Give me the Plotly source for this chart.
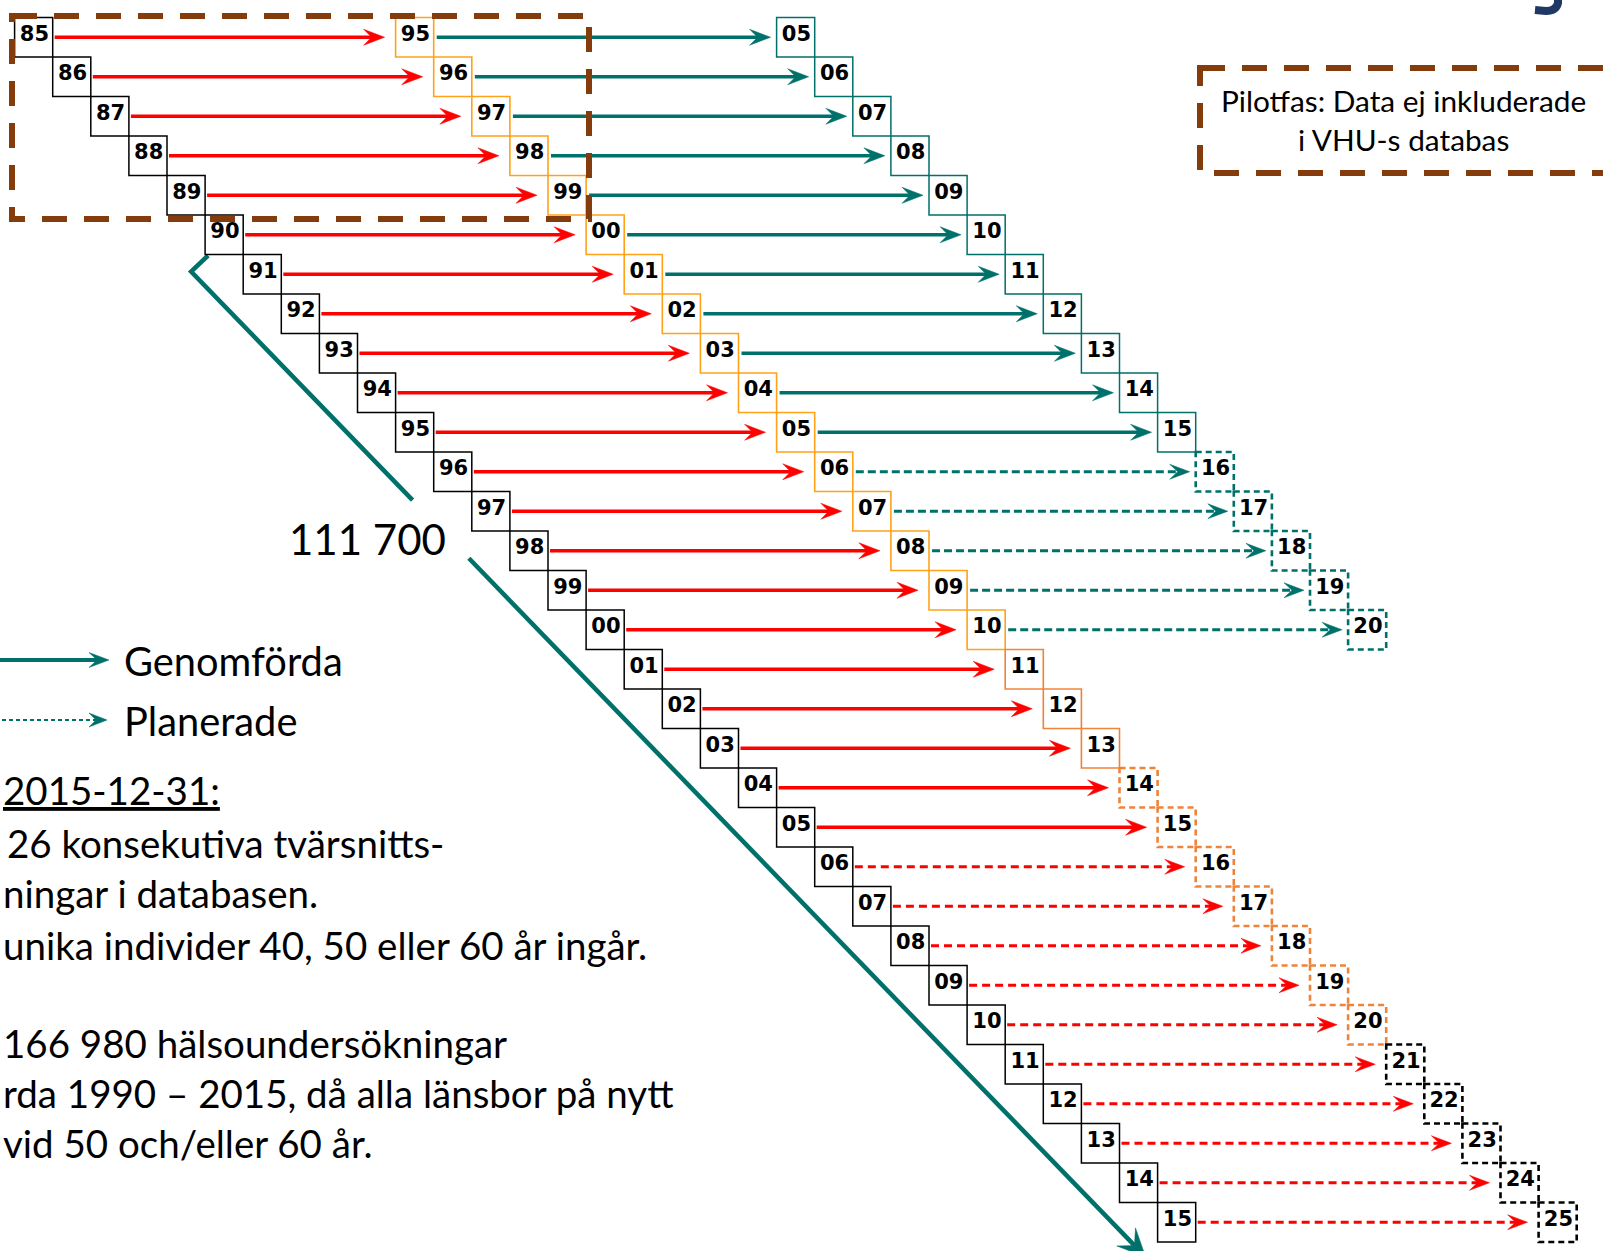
import math
import plotly.graph_objects as go

W, H = 1603, 1251

# ---------------- data ----------------
cohort_label = ["85", "86", "87", "88", "89", "90", "91", "92", "93", "94", "95",
                "96", "97", "98", "99", "00", "01", "02", "03", "04", "05",
                "06", "07", "08", "09", "10", "11", "12", "13", "14", "15"]
followup10_label = ["95", "96", "97", "98", "99", "00", "01", "02", "03", "04", "05",
                    "06", "07", "08", "09", "10", "11", "12", "13", "14", "15",
                    "16", "17", "18", "19", "20", "21", "22", "23", "24", "25"]
# G = genomförd (solid), P = planerad (dashed)
followup10_arrow = ["G", "G", "G", "G", "G", "G", "G", "G", "G", "G", "G",
                    "G", "G", "G", "G", "G", "G", "G", "G", "G", "G",
                    "P", "P", "P", "P", "P", "P", "P", "P", "P", "P"]
# A = amber solid, O = orange solid, OP = orange planned, KP = black planned
followup10_box = ["A", "A", "A", "A", "A", "A", "A", "A", "A", "A", "A",
                  "A", "A", "A", "A", "A", "O", "O", "O", "OP", "OP",
                  "OP", "OP", "OP", "OP", "OP", "KP", "KP", "KP", "KP", "KP"]
followup20_label = ["05", "06", "07", "08", "09", "10", "11", "12", "13", "14", "15",
                    "16", "17", "18", "19", "20"]
followup20_arrow = ["G", "G", "G", "G", "G", "G", "G", "G", "G", "G", "G",
                    "P", "P", "P", "P", "P"]

cohort_total_label = "111 700"
legend_labels = ["Genomförda", "Planerade"]
pilot_text = ["Pilotfas: Data ej inkluderade", "i VHU-s databas"]
note_lines = ["<u>2015-12-31:</u>",
              "26 konsekutiva tvärsnitts-",
              "ningar i databasen.",
              "unika individer 40, 50 eller 60 år ingår.",
              "166 980 hälsoundersökningar",
              "rda 1990 – 2015, då alla länsbor på nytt",
              "vid 50 och/eller 60 år."]

BASE_YEAR = 1985


def full_year(lbl):
    v = int(lbl)
    return 1900 + v if v >= 50 else 2000 + v


# ---------------- geometry of the staircase grid ----------------
X0, CW = 14.6, 38.1
Y0, RH = 17.5, 39.5


def d2p(x, y):
    return X0 + x * CW, Y0 + y * RH


def p2d(px, py):
    return (px - X0) / CW, (py - Y0) / RH


TEAL = "#00706B"
RED = "#FF0000"
AMBER = "#FFA21A"
ORANGE = "#EE843A"
BROWN = "#843C0C"
NAVY = "#203864"
FONT = "Lato"
BOXFONT = "DejaVu Sans"

STYLE = {
    "K": ("#000000", 1.5, "solid"),
    "A": (AMBER, 1.6, "solid"),
    "O": (ORANGE, 1.6, "solid"),
    "OP": (ORANGE, 2.6, "6px,4px"),
    "KP": ("#000000", 2.6, "6px,4px"),
    "T": (TEAL, 1.5, "solid"),
    "TP": (TEAL, 2.6, "6px,4px"),
}

shapes = []


def box(col, row, key):
    c, w, dash = STYLE[key]
    shapes.append(dict(type="rect", xref="x", yref="y", x0=col, x1=col + 1,
                       y0=row, y1=row + 1, line=dict(color=c, width=w, dash=dash),
                       fillcolor="rgba(0,0,0,0)", layer="above"))


lines = {}
heads = {}


def add_arrow(p_start, p_tip, color, width, dash, L=20, w=7, n=12):
    dx, dy = p_tip[0] - p_start[0], p_tip[1] - p_start[1]
    d = math.hypot(dx, dy)
    ux, uy = dx / d, dy / d
    vx, vy = -uy, ux
    end = (p_tip[0] - ux * (n - 3), p_tip[1] - uy * (n - 3))
    xs, ys = lines.setdefault((color, width, dash), ([], []))
    for p in (p_start, end):
        x, y = p2d(*p)
        xs.append(x)
        ys.append(y)
    xs.append(None)
    ys.append(None)
    hx, hy = heads.setdefault(color, ([], []))
    pts = [p_tip,
           (p_tip[0] - L * ux + w * vx, p_tip[1] - L * uy + w * vy),
           (p_tip[0] - n * ux, p_tip[1] - n * uy),
           (p_tip[0] - L * ux - w * vx, p_tip[1] - L * uy - w * vy),
           p_tip]
    for p in pts:
        x, y = p2d(*p)
        hx.append(x)
        hy.append(y)
    hx.append(None)
    hy.append(None)


labels = {"x": [], "y": [], "t": []}


def add_label(col, row, txt):
    labels["x"].append(col + 0.52)
    labels["y"].append(row + 0.45)
    labels["t"].append(txt)


for r, lbl in enumerate(cohort_label):
    c0 = full_year(lbl) - BASE_YEAR
    box(c0, r, "K")
    add_label(c0, r, lbl)

    c1 = full_year(followup10_label[r]) - BASE_YEAR
    box(c1, r, followup10_box[r])
    add_label(c1, r, followup10_label[r])
    yc = r + 0.5
    sx, sy = d2p(c0 + 1, yc)
    tx, ty = d2p(c1, yc)
    if followup10_arrow[r] == "G":
        add_arrow((sx + 2, sy), (tx - 11, ty), RED, 3.5, "solid", L=21, w=8, n=13)
    else:
        add_arrow((sx + 2, sy), (tx - 11, ty), RED, 2.8, "8px,5px", L=20, w=7.5, n=12)

    if r < len(followup20_label):
        c2 = full_year(followup20_label[r]) - BASE_YEAR
        st = "T" if followup20_arrow[r] == "G" else "TP"
        box(c2, r, st)
        add_label(c2, r, followup20_label[r])
        sx, sy = d2p(c1 + 1, yc)
        tx, ty = d2p(c2, yc)
        if followup20_arrow[r] == "G":
            add_arrow((sx + 3, sy), (tx - 6, ty), TEAL, 3.5, "solid", L=21, w=8, n=13)
        else:
            add_arrow((sx + 3, sy), (tx - 6, ty), TEAL, 2.8, "8px,4px", L=20, w=7.5, n=12)

# big diagonal arrow from first database cohort (1990) to last cohort (2015)
r90 = cohort_label.index("90")
c90 = full_year("90") - BASE_YEAR
r15 = cohort_label.index("15")
c15 = full_year("15") - BASE_YEAR
p_start = d2p(c90, r90 + 1)
p_start = (p_start[0] + 3, p_start[1] + 1)
p_elbow = (p_start[0] - 17, p_start[1] + 16)
p_tip = d2p(c15, r15 + 1)
p_tip = (p_tip[0] - 12, p_tip[1] + 15)
t1, t2 = 0.232, 0.291


def lerp(a, b, t):
    return (a[0] + (b[0] - a[0]) * t, a[1] + (b[1] - a[1]) * t)


diag_pts = [p_start, p_elbow, lerp(p_elbow, p_tip, t1), None, lerp(p_elbow, p_tip, t2)]
dxs, dys = [], []
for p in diag_pts:
    if p is None:
        dxs.append(None)
        dys.append(None)
    else:
        x, y = p2d(*p)
        dxs.append(x)
        dys.append(y)
add_arrow(lerp(p_elbow, p_tip, t2), p_tip, TEAL, 4.5, "solid", L=28, w=13, n=16)

# legend arrows (in pixel positions)
add_arrow((-5, 660), (109, 660), TEAL, 4, "solid", L=20, w=7.5, n=12)
add_arrow((-5, 720), (107, 720), TEAL, 2, "4px,3px", L=18, w=7, n=11)

fig = go.Figure()

for (color, width, dash), (xs, ys) in lines.items():
    fig.add_trace(go.Scatter(x=xs, y=ys, mode="lines", hoverinfo="skip",
                             line=dict(color=color, width=width, dash=dash)))
fig.add_trace(go.Scatter(x=dxs, y=dys, mode="lines", hoverinfo="skip",
                         line=dict(color=TEAL, width=4.5)))
for color, (xs, ys) in heads.items():
    fig.add_trace(go.Scatter(x=xs, y=ys, mode="lines", fill="toself", fillcolor=color,
                             hoverinfo="skip", line=dict(color=color, width=0.5)))

fig.add_trace(go.Scatter(x=labels["x"], y=labels["y"], text=labels["t"], mode="text",
                         hoverinfo="skip",
                         textfont=dict(family=BOXFONT, size=21, color="#000000",
                                       weight="bold")))

# brown dashed "pilot phase" frames
bx0, by0 = p2d(12, 16)
bx1, by1 = p2d(589, 219)
shapes.append(dict(type="rect", xref="x", yref="y", x0=bx0, x1=bx1, y0=by0, y1=by1,
                   line=dict(color=BROWN, width=6, dash="25px,17px"), layer="above"))
bx0, by0 = p2d(1200, 68)
bx1, by1 = p2d(1650, 173)
shapes.append(dict(type="rect", xref="x", yref="y", x0=bx0, x1=bx1, y0=by0, y1=by1,
                   line=dict(color=BROWN, width=6, dash="25px,17px"), layer="above"))


def pp(px, py):
    return px / W, 1 - py / H


# tail of a cut-off title letter in the top-right corner
tail = [(1558, -8), (1558, 3), (1556, 11), (1546, 11), (1535, 10)]
tp = [pp(*p) for p in tail]
path = "M {:.5f},{:.5f} L {:.5f},{:.5f} Q {:.5f},{:.5f} {:.5f},{:.5f} L {:.5f},{:.5f}".format(
    tp[0][0], tp[0][1], tp[1][0], tp[1][1], tp[2][0], tp[2][1], tp[3][0], tp[3][1],
    tp[4][0], tp[4][1])
shapes.append(dict(type="path", xref="paper", yref="paper", path=path,
                   line=dict(color=NAVY, width=8)))

annotations = []


def ann(text, px, py, size, xanchor="left", color="#000000"):
    x, y = pp(px, py)
    annotations.append(dict(text=text, x=x, y=y, xref="paper", yref="paper",
                            xanchor=xanchor, yanchor="middle", showarrow=False,
                            font=dict(family=FONT, size=size, color=color)))


ann(pilot_text[0], 1403, 101, 29.8, "center")
ann(pilot_text[1], 1403, 139, 29.8, "center")
ann(cohort_total_label, 367, 539, 42, "center")
ann(legend_labels[0], 122, 660, 39.8)
ann(legend_labels[1], 122, 720, 39.8)
note_pos = [(1, 790), (5, 843), (1, 893), (1, 945), (1, 1043), (1, 1093), (1, 1143)]
for txt, (px, py) in zip(note_lines, note_pos):
    ann(txt, px, py, 38.5, "left")

xr0, _ = p2d(0, 0)
xr1, _ = p2d(W, 0)
_, yr0 = p2d(0, 0)
_, yr1 = p2d(0, H)
fig.update_layout(
    width=W, height=H, margin=dict(l=0, r=0, t=0, b=0),
    paper_bgcolor="white", plot_bgcolor="white", showlegend=False,
    xaxis=dict(range=[xr0, xr1], visible=False, fixedrange=True),
    yaxis=dict(range=[yr1, yr0], visible=False, fixedrange=True),
    shapes=shapes, annotations=annotations,
)

fig.write_html("out.html", config={"displayModeBar": False},
               post_script="document.body.style.margin='0';"
                           "document.body.style.overflow='hidden';")
